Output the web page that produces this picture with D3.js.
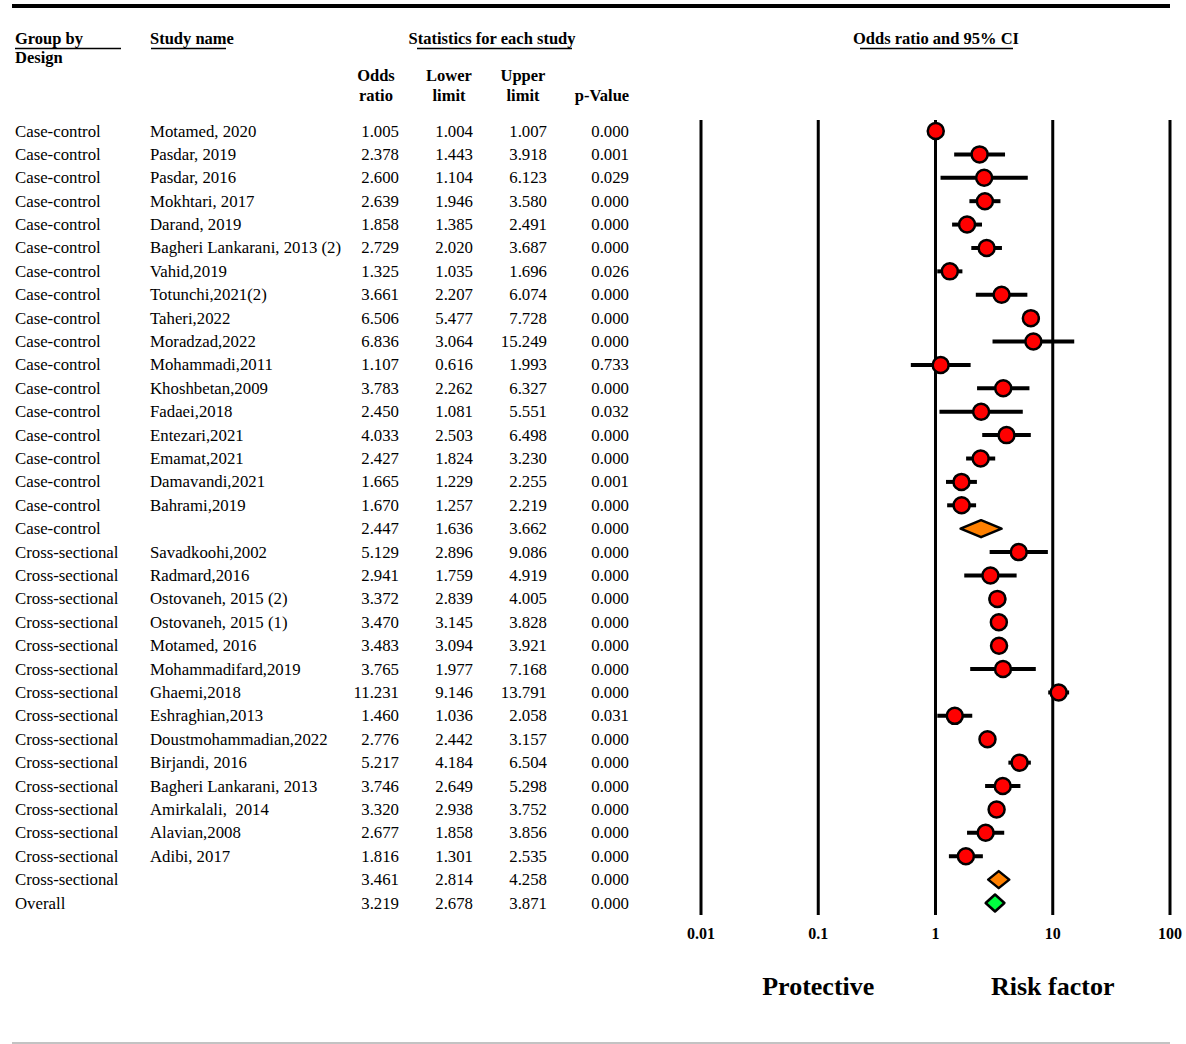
<!DOCTYPE html>
<html>
<head>
<meta charset="utf-8">
<script src="https://cdn.jsdelivr.net/npm/d3@7"></script>
<style>
  html, body { margin: 0; padding: 0; background: #fff; }
  svg text { font-family: "Liberation Serif", "Times New Roman", serif; fill: #000; }
</style>
</head>
<body>
<svg id="chart" width="1186" height="1044"></svg>
<script>
// Forest plot: odds ratios grouped by study design
const designs = [
  "Case-control","Case-control","Case-control","Case-control","Case-control","Case-control",
  "Case-control","Case-control","Case-control","Case-control","Case-control","Case-control",
  "Case-control","Case-control","Case-control","Case-control","Case-control","Case-control",
  "Cross-sectional","Cross-sectional","Cross-sectional","Cross-sectional","Cross-sectional",
  "Cross-sectional","Cross-sectional","Cross-sectional","Cross-sectional","Cross-sectional",
  "Cross-sectional","Cross-sectional","Cross-sectional","Cross-sectional","Cross-sectional",
  "Overall"
];
const studyNames = [
  "Motamed, 2020","Pasdar, 2019","Pasdar, 2016","Mokhtari, 2017","Darand, 2019",
  "Bagheri Lankarani, 2013 (2)","Vahid,2019","Totunchi,2021(2)","Taheri,2022","Moradzad,2022",
  "Mohammadi,2011","Khoshbetan,2009","Fadaei,2018","Entezari,2021","Emamat,2021",
  "Damavandi,2021","Bahrami,2019","",
  "Savadkoohi,2002","Radmard,2016","Ostovaneh, 2015 (2)","Ostovaneh, 2015 (1)","Motamed, 2016",
  "Mohammadifard,2019","Ghaemi,2018","Eshraghian,2013","Doustmohammadian,2022","Birjandi, 2016",
  "Bagheri Lankarani, 2013","Amirkalali,  2014","Alavian,2008","Adibi, 2017","",
  ""
];
const rowTypes = [
  "study","study","study","study","study","study","study","study","study","study",
  "study","study","study","study","study","study","study","subgroup",
  "study","study","study","study","study","study","study","study","study","study",
  "study","study","study","study","subgroup",
  "overall"
];
const oddsRatios = [
  1.005,2.378,2.600,2.639,1.858,2.729,1.325,3.661,6.506,6.836,1.107,3.783,2.450,4.033,2.427,1.665,1.670,2.447,
  5.129,2.941,3.372,3.470,3.483,3.765,11.231,1.460,2.776,5.217,3.746,3.320,2.677,1.816,3.461,
  3.219
];
const lowerLimits = [
  1.004,1.443,1.104,1.946,1.385,2.020,1.035,2.207,5.477,3.064,0.616,2.262,1.081,2.503,1.824,1.229,1.257,1.636,
  2.896,1.759,2.839,3.145,3.094,1.977,9.146,1.036,2.442,4.184,2.649,2.938,1.858,1.301,2.814,
  2.678
];
const upperLimits = [
  1.007,3.918,6.123,3.580,2.491,3.687,1.696,6.074,7.728,15.249,1.993,6.327,5.551,6.498,3.230,2.255,2.219,3.662,
  9.086,4.919,4.005,3.828,3.921,7.168,13.791,2.058,3.157,6.504,5.298,3.752,3.856,2.535,4.258,
  3.871
];
const pValues = [
  "0.000","0.001","0.029","0.000","0.000","0.000","0.026","0.000","0.000","0.000","0.733","0.000",
  "0.032","0.000","0.000","0.001","0.000","0.000",
  "0.000","0.000","0.000","0.000","0.000","0.000","0.000","0.031","0.000","0.000","0.000","0.000",
  "0.000","0.000","0.000",
  "0.000"
];
const tickValues = [0.01, 0.1, 1, 10, 100];
const tickLabels = ["0.01", "0.1", "1", "10", "100"];

const svg = d3.select("#chart");

const rows = designs.map((d, i) => ({
  design: d, name: studyNames[i], type: rowTypes[i],
  or: oddsRatios[i], lo: lowerLimits[i], hi: upperLimits[i], p: pValues[i]
}));

// Scales
const x = d3.scaleLog().domain([0.01, 100]).range([701, 1170]);
const y = d3.scaleLinear().domain([0, rows.length - 1]).range([131, 903]);

// Top rule and bottom rule
svg.append("rect").attr("x", 12).attr("y", 4).attr("width", 1158).attr("height", 4).attr("fill", "#000");
svg.append("line").attr("x1", 12).attr("x2", 1170).attr("y1", 1043).attr("y2", 1043)
  .attr("stroke", "#888").attr("stroke-width", 1.2);

// Headers
const hdr = svg.append("g").attr("font-weight", "bold").attr("font-size", 16.5);
function underlined(text, xPos, yPos, anchor, ux1, ux2) {
  hdr.append("text").attr("x", xPos).attr("y", yPos).attr("text-anchor", anchor).text(text);
  svg.append("line").attr("x1", ux1).attr("x2", ux2).attr("y1", yPos + 4.5).attr("y2", yPos + 4.5)
    .attr("stroke", "#000").attr("stroke-width", 1.5);
}
underlined("Group by", 15, 44, "start", 15, 121);
hdr.append("text").attr("x", 15).attr("y", 63).text("Design");
underlined("Study name", 150, 44, "start", 151, 226);
underlined("Statistics for each study", 492, 44, "middle", 417, 572);
underlined("Odds ratio and 95% CI", 936, 44, "middle", 860, 1013);

const colX = { or: 399, lo: 473, hi: 547, p: 629 };
[["Odds", "ratio", 376], ["Lower", "limit", 449], ["Upper", "limit", 523]].forEach(([a, b, cx]) => {
  hdr.append("text").attr("x", cx).attr("y", 81).attr("text-anchor", "middle").text(a);
  hdr.append("text").attr("x", cx).attr("y", 101).attr("text-anchor", "middle").text(b);
});
hdr.append("text").attr("x", 602).attr("y", 101).attr("text-anchor", "middle").text("p-Value");

// Table rows
const tbl = svg.append("g").attr("font-size", 16.8);
rows.forEach((r, i) => {
  const yy = y(i) + 5.5;
  tbl.append("text").attr("x", 15).attr("y", yy).text(r.design);
  tbl.append("text").attr("x", 150).attr("y", yy).attr("xml:space", "preserve").text(r.name);
  tbl.append("text").attr("x", colX.or).attr("y", yy).attr("text-anchor", "end").text(r.or.toFixed(3));
  tbl.append("text").attr("x", colX.lo).attr("y", yy).attr("text-anchor", "end").text(r.lo.toFixed(3));
  tbl.append("text").attr("x", colX.hi).attr("y", yy).attr("text-anchor", "end").text(r.hi.toFixed(3));
  tbl.append("text").attr("x", colX.p).attr("y", yy).attr("text-anchor", "end").text(r.p);
});

// Decade reference lines
svg.append("g").selectAll("line").data(tickValues).join("line")
  .attr("x1", d => x(d)).attr("x2", d => x(d))
  .attr("y1", 120).attr("y2", 915)
  .attr("stroke", "#000").attr("stroke-width", 3);

// Tick labels
svg.append("g").attr("font-weight", "bold").attr("font-size", 16)
  .selectAll("text").data(tickValues).join("text")
  .attr("x", d => x(d)).attr("y", 939).attr("text-anchor", "middle")
  .text((d, i) => tickLabels[i]);

// Confidence intervals and point estimates for individual studies
const studies = rows.map((r, i) => ({ ...r, i })).filter(r => r.type === "study");
const marks = svg.append("g");
marks.selectAll("line.ci").data(studies).join("line").attr("class", "ci")
  .attr("x1", d => x(d.lo)).attr("x2", d => x(d.hi))
  .attr("y1", d => y(d.i)).attr("y2", d => y(d.i))
  .attr("stroke", "#000").attr("stroke-width", 4);
marks.selectAll("circle").data(studies).join("circle")
  .attr("cx", d => x(d.or)).attr("cy", d => y(d.i)).attr("r", 8)
  .attr("fill", "#ff0000").attr("stroke", "#000").attr("stroke-width", 2.5);

// Pooled estimates as diamonds
const pooled = rows.map((r, i) => ({ ...r, i })).filter(r => r.type !== "study");
marks.selectAll("path.diamond").data(pooled).join("path").attr("class", "diamond")
  .attr("d", d => {
    const yy = y(d.i), h = 8.5;
    return `M${x(d.lo)},${yy}L${x(d.or)},${yy - h}L${x(d.hi)},${yy}L${x(d.or)},${yy + h}Z`;
  })
  .attr("fill", d => d.type === "overall" ? "#00ff40" : "#ff8000")
  .attr("stroke", "#000").attr("stroke-width", 2.5).attr("stroke-linejoin", "round");

// Direction labels
const dir = svg.append("g").attr("font-weight", "bold").attr("font-size", 26).attr("text-anchor", "middle");
dir.append("text").attr("x", x(0.1)).attr("y", 995).text("Protective");
dir.append("text").attr("x", x(10)).attr("y", 995).text("Risk factor");
</script>
</body>
</html>
